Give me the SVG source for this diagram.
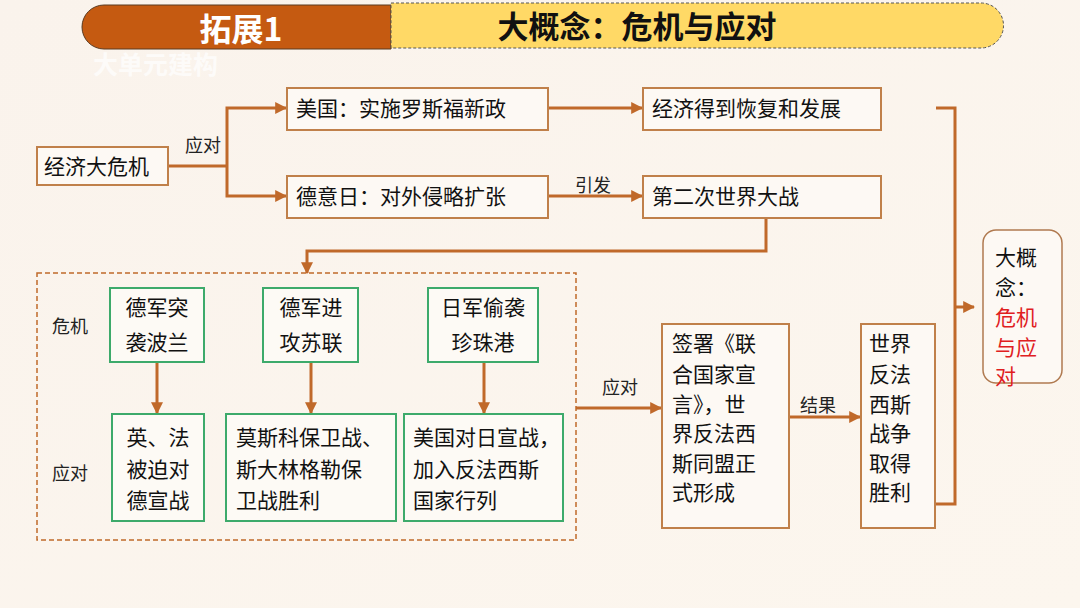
<svg xmlns="http://www.w3.org/2000/svg" width="1080" height="608" viewBox="0 0 1080 608">
<defs>
<linearGradient id="bg" x1="0" y1="0" x2="1" y2="1">
<stop offset="0" stop-color="#FAF3EC"/>
<stop offset="1" stop-color="#FCF6EE"/>
</linearGradient>
<marker id="ah" viewBox="0 0 10 10" refX="9" refY="5" markerWidth="4" markerHeight="4" orient="auto" markerUnits="strokeWidth">
<path d="M0,0 L10,5 L0,10 Z" fill="#C0692A"/>
</marker>
<style>
.box{fill:#FDF9F4;stroke:#C0804A;stroke-width:2}
.gbox{fill:#FDFAF5;stroke:#3DAA6B;stroke-width:2}
.t{font-family:"Noto Sans CJK SC","Noto Sans",sans-serif;font-size:21px;fill:#111}
.g{font-family:"Noto Sans CJK SC","Noto Sans",sans-serif;font-size:21px;fill:#111}
.lbl{font-family:"Noto Sans CJK SC","Noto Sans",sans-serif;font-size:18px;fill:#222}
.c{fill:none;stroke:#C0692A;stroke-width:3}
.ca{fill:none;stroke:#C0692A;stroke-width:3;marker-end:url(#ah)}
.red{fill:#E0201F}
</style>
</defs>
<rect width="1080" height="608" fill="url(#bg)"/>

<g id="header">
<path d="M104,5 H391 V49 H104 A22,22 0 0 1 104,5 Z" fill="#C55A11" stroke="#5A3A20" stroke-width="1"/>
<path d="M391,3 H981 A22.5,22.5 0 0 1 981,48 H391 Z" fill="#FFD966" stroke="#555" stroke-width="1" stroke-dasharray="3,2"/>
<text x="241" y="41" text-anchor="middle" style="font-family:'Noto Sans CJK SC',sans-serif;font-size:32px;font-weight:bold;fill:#fff">拓展1</text>
<text x="637" y="38" text-anchor="middle" style="font-family:'Noto Sans CJK SC',sans-serif;font-size:31px;font-weight:bold;fill:#111">大概念：危机与应对</text>
<text x="93" y="74" style="font-family:'Noto Sans CJK SC',sans-serif;font-size:25px;font-weight:bold;fill:#fff;opacity:0.7">大单元建构</text>
</g>

<g id="connectors">
<path class="c" d="M168,166 H227"/>
<path class="ca" d="M227,166 V108 H286"/>
<path class="ca" d="M227,166 V196 H286"/>
<path class="ca" d="M548,108 H642"/>
<path class="ca" d="M548,196 H642"/>
<path class="ca" d="M766,218 V251 H307 V273"/>
<path class="ca" d="M157,362 V413"/>
<path class="ca" d="M311,362 V413"/>
<path class="ca" d="M484,362 V413"/>
<path class="ca" d="M576,408 H661"/>
<path class="ca" d="M789,417 H860"/>
<path class="c" d="M935,504 H955 V108 H936"/>
<path class="ca" d="M955,307 H974"/>
<text class="lbl" x="185" y="152">应对</text>
<text class="lbl" x="575" y="192">引发</text>
<text class="lbl" x="602" y="394">应对</text>
<text class="lbl" x="800" y="412">结果</text>
</g>

<g id="n-crisis">
<rect class="box" x="37" y="147" width="131" height="38"/>
<text class="t" x="44" y="174">经济大危机</text>
</g>
<g id="n-usa">
<rect class="box" x="287" y="88" width="261" height="42"/>
<text class="t" x="296" y="116">美国：实施罗斯福新政</text>
</g>
<g id="n-axis">
<rect class="box" x="287" y="176" width="261" height="42"/>
<text class="t" x="296" y="204">德意日：对外侵略扩张</text>
</g>
<g id="n-econ">
<rect class="box" x="643" y="88" width="238" height="42"/>
<text class="t" x="652" y="116">经济得到恢复和发展</text>
</g>
<g id="n-ww2">
<rect class="box" x="643" y="176" width="238" height="42"/>
<text class="t" x="652" y="204">第二次世界大战</text>
</g>

<g id="n-ww2-group">
<rect x="37" y="273" width="539" height="267" fill="none" stroke="#C0692A" stroke-width="1.5" stroke-dasharray="5,3"/>
<text class="lbl" x="52" y="333">危机</text>
<text class="lbl" x="52" y="480">应对</text>
</g>

<g id="n-poland">
<rect class="gbox" x="110" y="288" width="94" height="74"/>
<text class="g" text-anchor="middle" x="157" y="315">德军突</text>
<text class="g" text-anchor="middle" x="157" y="350">袭波兰</text>
</g>
<g id="n-ussr">
<rect class="gbox" x="263" y="288" width="95" height="74"/>
<text class="g" text-anchor="middle" x="311" y="315">德军进</text>
<text class="g" text-anchor="middle" x="311" y="350">攻苏联</text>
</g>
<g id="n-pearl">
<rect class="gbox" x="428" y="288" width="110" height="74"/>
<text class="g" text-anchor="middle" x="483" y="315">日军偷袭</text>
<text class="g" text-anchor="middle" x="483" y="350">珍珠港</text>
</g>
<g id="n-ukfr">
<rect class="gbox" x="112" y="414" width="92" height="107"/>
<text class="g" text-anchor="middle" x="158" y="445">英、法</text>
<text class="g" text-anchor="middle" x="158" y="477">被迫对</text>
<text class="g" text-anchor="middle" x="158" y="508">德宣战</text>
</g>
<g id="n-moscow">
<rect class="gbox" x="226" y="414" width="170" height="107"/>
<text class="g" x="236" y="445">莫斯科保卫战、</text>
<text class="g" x="236" y="477">斯大林格勒保</text>
<text class="g" x="236" y="508">卫战胜利</text>
</g>
<g id="n-usdecl">
<rect class="gbox" x="404" y="414" width="159" height="107"/>
<text class="g" x="413" y="445">美国对日宣战，</text>
<text class="g" x="413" y="477">加入反法西斯</text>
<text class="g" x="413" y="508">国家行列</text>
</g>

<g id="n-un">
<rect class="box" x="662" y="324" width="127" height="204"/>
<text class="t" x="672" y="351">签署《联</text>
<text class="t" x="672" y="382">合国家宣</text>
<text class="t" x="672" y="412">言》，世</text>
<text class="t" x="672" y="441">界反法西</text>
<text class="t" x="672" y="471">斯同盟正</text>
<text class="t" x="672" y="500">式形成</text>
</g>
<g id="n-victory">
<rect class="box" x="861" y="324" width="74" height="204"/>
<text class="t" x="869" y="351">世界</text>
<text class="t" x="869" y="382">反法</text>
<text class="t" x="869" y="412">西斯</text>
<text class="t" x="869" y="441">战争</text>
<text class="t" x="869" y="471">取得</text>
<text class="t" x="869" y="500">胜利</text>
</g>
<g id="n-concept">
<rect x="983" y="230" width="79" height="153" rx="13" fill="#FDF9F4" stroke="#B07A50" stroke-width="1.5"/>
<text class="t" x="995" y="265">大概</text>
<text class="t" x="995" y="295">念：</text>
<text class="t red" x="995" y="325">危机</text>
<text class="t red" x="995" y="355">与应</text>
<text class="t red" x="995" y="384">对</text>
</g>
</svg>
